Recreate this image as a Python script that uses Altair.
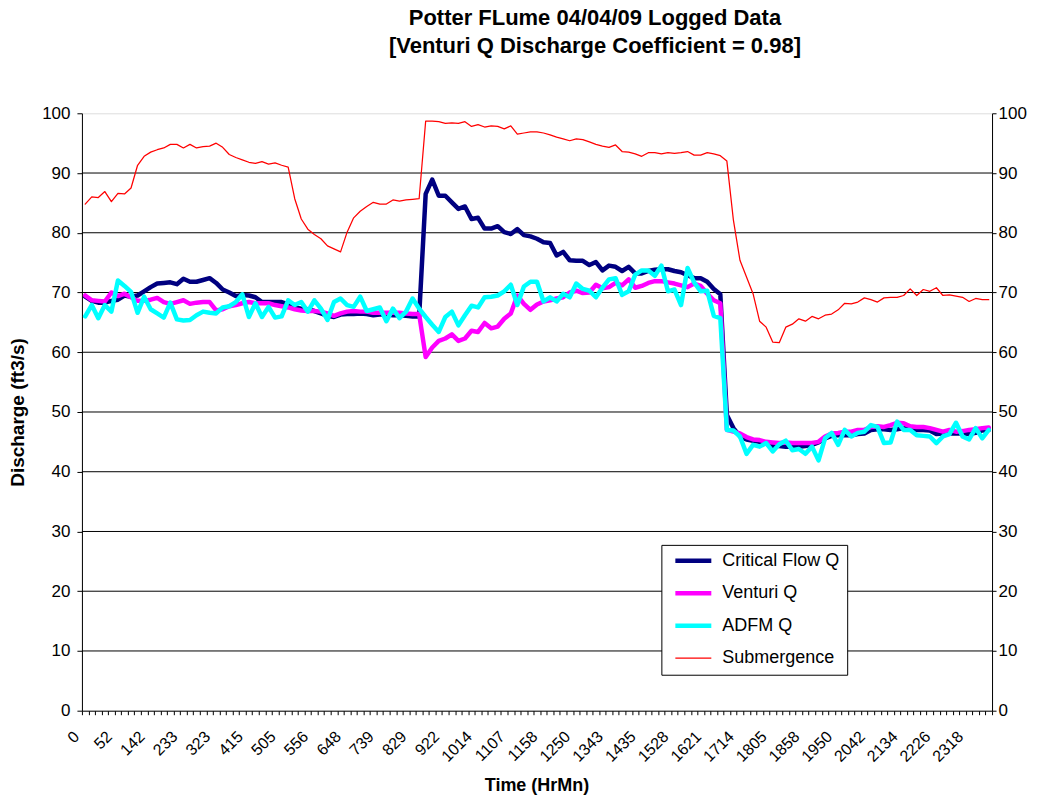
import altair as alt
import pandas as pd

# ---------------- data ----------------
time_labels = ["0", "52", "142", "233", "323", "415", "505", "556", "648", "739",
               "829", "922", "1014", "1107", "1158", "1250", "1343", "1435", "1528",
               "1621", "1714", "1805", "1858", "1950", "2042", "2134", "2226", "2318"]

critical_flow_q = [
    69.3, 68.6, 68.3, 68.3, 68.6, 68.8, 69.5, 69.3, 69.5, 70.2,
    70.9, 71.5, 71.6, 71.7, 71.4, 72.3, 71.8, 71.8, 72.1, 72.4,
    71.6, 70.5, 70.0, 69.4, 69.6, 69.5, 69.2, 68.4, 68.4, 68.4,
    68.4, 68.0, 67.5, 67.3, 67.2, 66.9, 66.5, 66.1, 65.9, 66.3,
    66.4, 66.4, 66.5, 66.4, 66.2, 66.3, 66.3, 66.2, 66.2, 66.1,
    66.0, 66.0, 86.5, 88.9, 86.2, 86.2, 85.1, 84.0, 84.4, 82.3,
    82.5, 80.7, 80.7, 81.1, 80.1, 79.8, 80.6, 79.6, 79.4, 79.0,
    78.4, 78.3, 76.2, 76.8, 75.4, 75.3, 75.3, 74.6, 75.1, 73.7,
    74.5, 74.3, 73.6, 74.3, 73.2, 73.2, 73.6, 73.8, 73.9, 73.9,
    73.6, 73.4, 72.9, 72.4, 72.4, 71.8, 70.6, 69.7, 49.5, 47.3,
    45.9, 45.4, 45.2, 45.0, 44.7, 44.3, 44.3, 44.2, 44.2, 44.2,
    44.3, 44.5, 44.9, 45.6, 46.0, 46.1, 46.1, 46.1, 46.3, 46.4,
    47.0, 47.1, 47.1, 47.0, 47.1, 47.3, 47.1, 47.0, 47.0, 46.9,
    46.3, 46.4, 46.4, 46.4, 46.4, 46.3, 46.5, 46.9, 47.0]

venturi_q = [
    69.5, 68.7, 68.6, 68.5, 70.0, 69.4, 69.8, 69.2, 68.6, 68.6,
    68.8, 69.1, 68.4, 68.1, 68.4, 68.7, 68.1, 68.3, 68.4, 68.4,
    67.0, 67.2, 67.7, 67.9, 68.2, 68.4, 68.2, 68.2, 68.2, 67.9,
    67.7, 67.5, 67.2, 67.0, 66.9, 66.9, 66.8, 66.5, 66.1, 66.5,
    66.8, 66.9, 66.8, 66.8, 66.6, 66.6, 66.6, 66.6, 66.6, 66.5,
    66.4, 66.4, 59.2, 60.8, 61.9, 62.3, 63.0, 61.9, 62.3, 63.6,
    63.4, 64.9, 64.0, 64.3, 65.6, 66.5, 69.5, 68.1, 67.1, 68.0,
    68.5, 68.7, 69.0, 69.2, 70.0, 70.3, 69.9, 70.0, 71.3, 70.7,
    70.9, 71.6, 71.2, 72.2, 70.8, 71.1, 71.6, 71.9, 71.9, 71.7,
    71.5, 71.2, 70.9, 71.5, 71.1, 69.8, 68.7, 68.2, 47.0, 46.7,
    46.4, 45.8, 45.4, 45.3, 45.0, 44.9, 44.8, 44.9, 44.8, 44.8,
    44.8, 44.8, 45.0, 45.9, 46.4, 46.5, 46.7, 46.7, 47.0, 47.0,
    47.5, 47.6, 47.5, 47.8, 48.2, 48.1, 47.6, 47.5, 47.5, 47.3,
    47.0, 46.7, 47.0, 46.7, 46.8, 47.0, 47.1, 47.3, 47.4]

adfm_q = [
    66.0, 67.9, 65.7, 67.9, 66.8, 72.0, 71.1, 70.1, 66.6, 69.3,
    67.2, 66.5, 65.8, 68.3, 65.5, 65.3, 65.4, 66.2, 66.8, 66.6,
    66.5, 67.5, 67.7, 68.4, 69.7, 65.9, 68.2, 65.9, 67.6, 65.8,
    66.0, 68.7, 67.9, 68.4, 66.8, 68.7, 67.3, 65.4, 68.4, 69.0,
    67.9, 67.6, 69.3, 66.9, 67.2, 67.5, 65.2, 67.3, 65.7, 66.8,
    69.0, 67.3, 65.9, 64.6, 63.4, 65.9, 66.8, 64.5, 66.2, 67.8,
    67.5, 69.2, 69.3, 69.5, 70.2, 71.3, 67.9, 71.0, 71.8, 71.8,
    68.5, 69.2, 68.5, 69.8, 69.2, 71.5, 70.6, 70.3, 69.2, 70.8,
    72.2, 72.4, 69.6, 70.2, 73.0, 73.7, 73.7, 72.8, 74.5, 70.2,
    70.5, 67.9, 74.1, 71.7, 70.2, 70.3, 66.1, 65.7, 47.0, 46.9,
    45.9, 43.0, 44.5, 44.2, 44.8, 43.4, 44.6, 45.2, 43.6, 43.8,
    43.0, 44.2, 41.9, 45.6, 46.5, 44.5, 47.0, 45.9, 46.5, 46.7,
    47.8, 47.5, 44.8, 44.9, 48.4, 47.0, 47.0, 46.1, 46.0, 45.9,
    44.8, 45.9, 46.3, 48.2, 45.9, 45.4, 47.3, 45.6, 47.0]

submergence = [
    84.8, 86.0, 85.9, 86.9, 85.2, 86.6, 86.5, 87.5, 91.3, 92.8,
    93.5, 93.9, 94.2, 94.8, 94.8, 94.2, 94.8, 94.2, 94.4, 94.5,
    95.0, 94.3, 93.1, 92.6, 92.2, 91.8, 91.6, 91.9, 91.5, 91.7,
    91.3, 91.0, 85.7, 82.3, 80.6, 79.7, 79.0, 77.8, 77.3, 76.8,
    80.1, 82.5, 83.6, 84.4, 85.1, 84.8, 84.8, 85.5, 85.3, 85.5,
    85.6, 85.7, 98.7, 98.7, 98.6, 98.3, 98.4, 98.3, 98.6, 97.8,
    98.1, 97.7, 97.9, 97.8, 97.4, 97.9, 96.5, 96.7, 96.9, 96.9,
    96.7, 96.4, 96.0, 95.7, 95.4, 95.7, 95.6, 95.2, 94.8, 94.5,
    94.3, 94.7, 93.6, 93.5, 93.2, 92.8, 93.4, 93.4, 93.2, 93.4,
    93.3, 93.4, 93.6, 93.0, 93.0, 93.4, 93.2, 92.9, 92.0, 82.1,
    75.4, 72.6, 69.8, 65.2, 64.2, 61.7, 61.6, 64.2, 64.7, 65.6,
    65.2, 66.0, 65.6, 66.2, 66.4, 67.1, 68.2, 68.1, 68.4, 69.1,
    68.8, 68.4, 69.1, 69.2, 69.2, 69.5, 70.6, 69.5, 70.5, 70.2,
    70.8, 69.5, 69.6, 69.4, 69.2, 68.5, 69.0, 68.8, 68.8]

series_names = ["Critical Flow Q", "Venturi Q", "ADFM Q", "Submergence"]
series_colors = ["#000080", "#FF00FF", "#00FFFF", "#FF0000"]
series_widths = [4.5, 4.5, 4.5, 1.25]
y_ticks = [0, 10, 20, 30, 40, 50, 60, 70, 80, 90, 100]
grid_values = [10, 20, 30, 40, 50, 60, 70, 80, 90]

# ---------------- table ----------------
rows = []
for name, vals in zip(series_names, [critical_flow_q, venturi_q, adfm_q, submergence]):
    for i, v in enumerate(vals):
        rows.append({"idx": i, "series": name, "value": v})
df = pd.DataFrame(rows)

FONT = "Liberation Sans"
label_js = "[" + ",".join("'%s'" % t for t in time_labels) + "]"
label_expr = "datum.value % 5 === 0 ? " + label_js + "[datum.value / 5] : ''"

x_axis = alt.Axis(
    title="Time (HrMn)", titleFont=FONT, titleFontSize=18, titleFontWeight="bold",
    titleColor="black", titleX=455, titleY=75, titleBaseline="middle",
    labelExpr=label_expr, labelAngle=315, labelAlign="right", labelBaseline="middle",
    labelOverlap=False, labelFont=FONT, labelFontSize=16, labelColor="black",
    labelPadding=19, labelOffset=-9, tickBand="extent", tickSize=4, tickColor="black",
    domainColor="black", grid=False,
)

x_enc = alt.X("idx:O", bandPosition=0.5,
              scale=alt.Scale(type="band", paddingInner=0, paddingOuter=0),
              axis=x_axis)

width_expr = "datum.value === 'Submergence' ? %s : %s" % (series_widths[3], series_widths[0])
color_enc = alt.Color("series:N",
                      scale=alt.Scale(domain=series_names, range=series_colors),
                      legend=alt.Legend(title=None, orient="none", legendX=580, legendY=432,
                                        symbolType="stroke", symbolSize=1296,
                                        symbolStrokeWidth=alt.ExprRef(width_expr),
                                        symbolOffset=16, clipHeight=18,
                                        labelExpr="datum.label + '\u00a0\u00a0'",
                                        labelFont=FONT, labelFontSize=18, labelColor="black",
                                        fillColor="white", strokeColor="black", padding=7,
                                        rowPadding=14.5, labelOffset=20))

y_scale = alt.Scale(domain=[0, 100], nice=False, zero=True)

left_axis = alt.Axis(title="Discharge (ft3/s)", titleFont=FONT, titleFontSize=19,
                     titleFontWeight="bold", titleColor="black", titleX=-64, titleY=299,
                     titleAlign="center", titleBaseline="middle",
                     values=y_ticks, grid=False, labelFont=FONT, labelFontSize=17,
                     labelColor="black", tickSize=5, tickColor="black", labelPadding=7,
                     domainColor="black")
right_axis = alt.Axis(title=None, orient="right", values=y_ticks, grid=False,
                      labelFont=FONT, labelFontSize=17, labelColor="black", tickSize=4,
                      tickColor="black", labelPadding=2, domainColor="black")

grid = alt.Chart(pd.DataFrame({"g": grid_values})).mark_rule(color="black", strokeWidth=1).encode(
    y=alt.Y("g:Q", scale=y_scale, axis=None)
)


def series_layer(name, width, axis):
    return alt.Chart(df).transform_filter(alt.datum.series == name).mark_line(
        strokeJoin="round", strokeCap="round", strokeWidth=width
    ).encode(
        x=x_enc,
        y=alt.Y("value:Q", scale=y_scale, axis=axis),
        color=color_enc,
    )


chart = alt.layer(
    grid,
    series_layer(series_names[0], series_widths[0], left_axis),
    series_layer(series_names[1], series_widths[1], None),
    series_layer(series_names[2], series_widths[2], None),
    series_layer(series_names[3], series_widths[3], right_axis),
).resolve_scale(y="independent").properties(
    width=911, height=598,
    autosize=alt.AutoSizeParams(type="none"),
    padding={"left": 74, "top": 105, "right": 39, "bottom": 84},
    title=alt.TitleParams(["Potter FLume 04/04/09 Logged Data",
                           "[Venturi Q Discharge Coefficient = 0.98]"],
                          font=FONT, fontSize=22, fontWeight="bold", color="black",
                          anchor="middle", offset=46, lineHeight=28, dx=58),
).configure_view(stroke=None).configure(background="white")

chart.save("out.html", embed_options={"renderer": "svg", "actions": False})
